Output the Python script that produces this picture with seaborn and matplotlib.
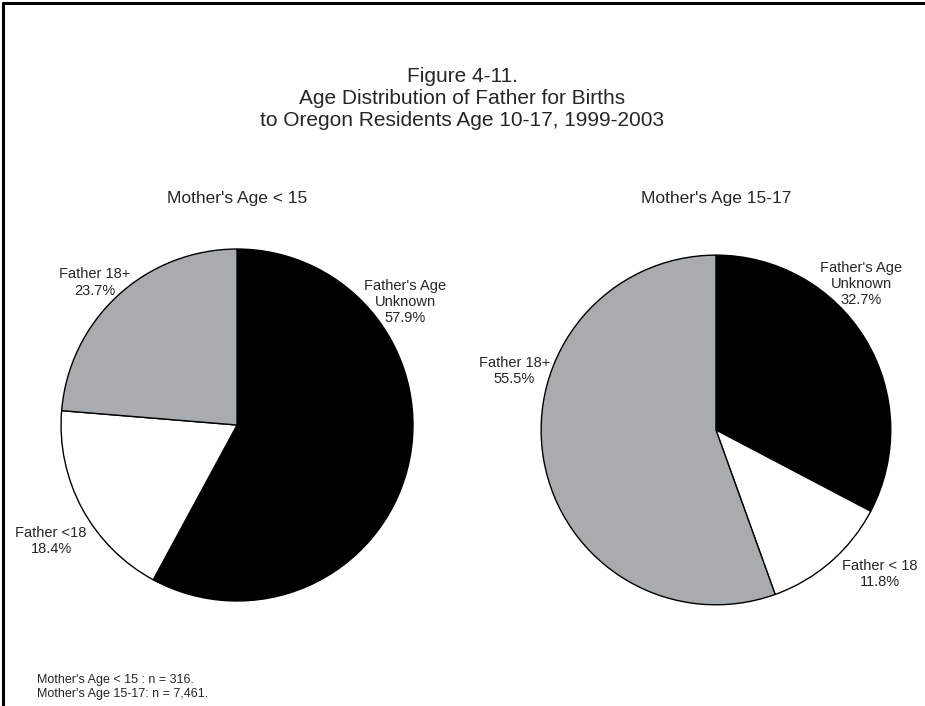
import matplotlib
matplotlib.use("Agg")
import matplotlib.pyplot as plt
import seaborn as sns
from matplotlib.lines import Line2D

# Data
labels_young = ["Father's Age\nUnknown", "Father <18", "Father 18+"]
values_young = [57.9, 18.4, 23.7]
labels_older = ["Father's Age\nUnknown", "Father < 18", "Father 18+"]
values_older = [32.7, 11.8, 55.5]
slice_colors = ["#000000", "#FFFFFF", "#A9ACAF"]
subtitles = ["Mother's Age < 15", "Mother's Age 15-17"]
title = "Figure 4-11.\nAge Distribution of Father for Births\nto Oregon Residents Age 10-17, 1999-2003"
notes = "Mother's Age < 15 : n = 316.\nMother's Age 15-17: n = 7,461."

sns.set_theme(style="white")
plt.rcParams['font.family'] = ['Liberation Sans', 'DejaVu Sans']

fig = plt.figure(figsize=(9.25, 7.06), dpi=100)

# label positions (pie radius units), one per slice
label_pos_young = [(0.955, 0.70), (-1.057, -0.66), (-0.81, 0.81)]
label_pos_older = [(0.83, 0.834), (0.937, -0.823), (-1.154, 0.337)]

panels = [
    ([0.066, 0.1487, 0.3805, 0.4986], labels_young, values_young, label_pos_young),
    ([0.585, 0.143, 0.378, 0.496], labels_older, values_older, label_pos_older),
]

for (rect, labs, vals, pos), sub in zip(panels, subtitles):
    ax = fig.add_axes(rect)
    ax.pie(vals, colors=slice_colors, startangle=90, counterclock=False,
           wedgeprops=dict(edgecolor="black", linewidth=1.0), radius=1.0)
    ax.set_xlim(-1, 1)
    ax.set_ylim(-1, 1)
    ax.set_aspect("equal")
    ax.axis("off")
    for lab, v, (x, y) in zip(labs, vals, pos):
        ax.text(x, y, f"{lab}\n{v:.1f}%", ha="center", va="center",
                fontsize=10.5, linespacing=1.2, clip_on=False)
    # subtitles share one height in the figure
    fig.text(rect[0] + rect[2] / 2, 0.719, sub, ha="center", va="center",
             fontsize=12.5)

fig.text(0.5, 0.861, title, ha="center", va="center", fontsize=15,
         linespacing=1.2)
fig.text(0.04, 0.008, notes, ha="left", va="bottom", fontsize=9,
         linespacing=1.25)

# frame lines along top and left edges
fig.add_artist(Line2D([0.0035, 1.0], [0.996, 0.996], color="black", lw=2.2))
fig.add_artist(Line2D([0.0035, 0.0035], [0.0, 0.996], color="black", lw=2.2))

fig.savefig("out.png", dpi=100)
